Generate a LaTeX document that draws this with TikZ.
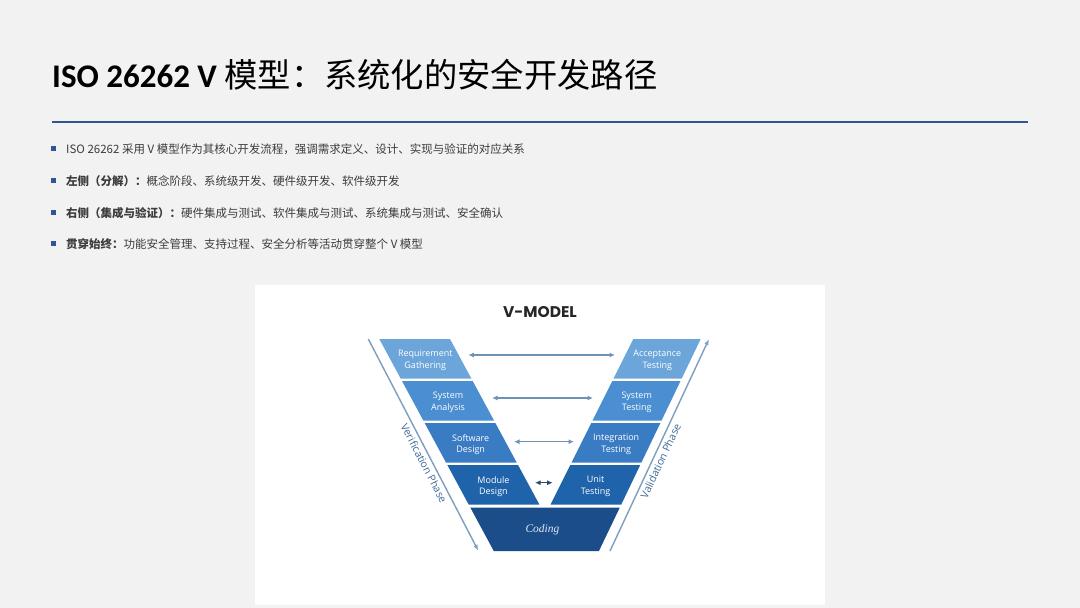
\documentclass[tikz,border=0pt]{standalone}
\usepackage{fontspec}
\setmainfont{Liberation Serif}
\newfontfamily\cjk{Noto Sans CJK SC}
\newfontfamily\carl{Carlito}
\newfontfamily\lab{Open Sans}
\newfontfamily\vmfont{Poppins}
\usetikzlibrary{arrows.meta}
\definecolor{bg}{HTML}{F2F2F2}
\definecolor{rule}{HTML}{2F5597}
\definecolor{btext}{HTML}{3C3C3C}
\definecolor{bandA}{HTML}{6BA5DA}
\definecolor{bandB}{HTML}{4B8ED1}
\definecolor{bandC}{HTML}{3A7CC3}
\definecolor{bandD}{HTML}{1F63AA}
\definecolor{bandE}{HTML}{1A4D8A}
\definecolor{harr}{HTML}{6F93B6}
\definecolor{harrdark}{HTML}{2C4A6B}
\definecolor{phline}{HTML}{7F9DBE}
\definecolor{phtext}{HTML}{3F6A98}
\newcommand\vband[3]{%
  \fill[#3] ({379.3+0.54*(#1-339)},#1) -- ({450+0.54*(#1-339)},#1) -- ({450+0.54*(#2-339)},#2) -- ({379.3+0.54*(#2-339)},#2) -- cycle;
  \fill[#3] ({633.3-0.5*(#1-339)},#1) -- ({700.7-0.48*(#1-339)},#1) -- ({700.7-0.48*(#2-339)},#2) -- ({633.3-0.5*(#2-339)},#2) -- cycle;
}
\begin{document}
\begin{tikzpicture}[x=1pt,y=-1pt,
  bullettext/.style={anchor=base west, inner sep=0pt, text=btext, font=\cjk\fontsize{11.5}{14}\selectfont},
  bulletsq/.style={fill=rule, minimum size=5pt, inner sep=0pt},
  bandlabel/.style={align=center, text=white, inner sep=0pt, font=\lab\fontsize{9}{11.5}\selectfont},
  harrow/.style={draw=harr, line width=1.4pt, arrows={Latex[length=5.5pt,width=5pt]-Latex[length=5.5pt,width=5pt]}},
  phase/.style={draw=phline, line width=1.4pt, arrows={-Latex[length=6pt,width=4.5pt]}},
  phaselabel/.style={text=phtext, inner sep=2pt, font=\lab\fontsize{10.5}{12}\selectfont}
]
\useasboundingbox (0,0) rectangle (1080,608);
\fill[bg] (0,0) rectangle (1080,608);

% title
\node[anchor=base west, inner sep=0pt, text=black] (title) at (52,87)
  {{\carl\bfseries\fontsize{33}{38}\selectfont ISO 26262 V }{\cjk\fontsize{33.3}{38}\selectfont 模型：系统化的安全开发路径}};
\coordinate (ruleL) at (52,122);
\coordinate (ruleR) at (1028,122);
\draw[rule, line width=2.6pt] (ruleL) -- (ruleR);

% bullets
\node[bulletsq] (b1) at (53.5,148.5) {};
\node[bulletsq] (b2) at (53.5,180.5) {};
\node[bulletsq] (b3) at (53.5,212.5) {};
\node[bulletsq] (b4) at (53.5,243.5) {};
\node[bullettext] (t1) at (66,153) {ISO 26262 采用 V 模型作为其核心开发流程，强调需求定义、设计、实现与验证的对应关系};
\node[bullettext] (t2) at (66,185) {\bfseries 左侧（分解）：\mdseries 概念阶段、系统级开发、硬件级开发、软件级开发};
\node[bullettext] (t3) at (66,217) {\bfseries 右侧（集成与验证）：\mdseries 硬件集成与测试、软件集成与测试、系统集成与测试、安全确认};
\node[bullettext] (t4) at (66,248) {\bfseries 贯穿始终：\mdseries 功能安全管理、支持过程、安全分析等活动贯穿整个 V 模型};

% picture panel
\fill[white] (255,285) rectangle (825,605);
\node[inner sep=0pt, text=black!85] (vmodel) at (540,312) {\vmfont\bfseries\fontsize{15.5}{18}\selectfont V-MODEL};

% bands
\vband{339}{378.5}{bandA}
\vband{381}{420.5}{bandB}
\vband{423}{462.5}{bandC}
\vband{465}{504.5}{bandD}
\fill[bandE] (470.29,507.5) -- (619.82,507.5) -- (598.94,551) -- (493.78,551) -- cycle;

% labels
\node[bandlabel] (req) at (425.3,360.5) {Requirement\\Gathering};
\node[bandlabel] (sysa) at (448,402.5) {System\\Analysis};
\node[bandlabel] (swd) at (470.7,444.5) {Software\\Design};
\node[bandlabel] (mod) at (493.4,486.5) {Module\\Design};
\node[bandlabel] (acc) at (657.3,360.5) {Acceptance\\Testing};
\node[bandlabel] (syst) at (636.7,402.5) {System\\Testing};
\node[bandlabel] (integ) at (616.2,444.5) {Integration\\Testing};
\node[bandlabel] (unit) at (595.6,486.5) {Unit\\Testing};
\node[inner sep=0pt, text=white!88!bandE, font=\itshape\fontsize{11.5}{14}\selectfont] (coding) at (542.5,529.5) {Coding};

% horizontal arrows
\coordinate (h1l) at (468.3,355); \coordinate (h1r) at (615,355);
\coordinate (h2l) at (492,398);   \coordinate (h2r) at (593,398);
\coordinate (h3l) at (514,441.7); \coordinate (h3r) at (574,441.7);
\coordinate (h4l) at (535,482.7); \coordinate (h4r) at (552.7,482.7);
\draw[harrow] (h1l) -- (h1r);
\draw[harrow] (h2l) -- (h2r);
\draw[harrow] (h3l) -- (h3r);
\draw[harrow, draw=harrdark] (h4l) -- (h4r);

% phase arrows
\coordinate (vt) at (368.3,339); \coordinate (vb) at (478.3,550.7);
\coordinate (lb) at (610,551);   \coordinate (lt) at (709,339);
\draw[phase] (vt) -- node[pos=0.57, sloped, below=1pt, phaselabel] (verif) {Verification Phase} (vb);
\draw[phase] (lb) -- node[pos=0.44, sloped, below=1pt, phaselabel] (valid) {Validation Phase} (lt);
\end{tikzpicture}
\end{document}
